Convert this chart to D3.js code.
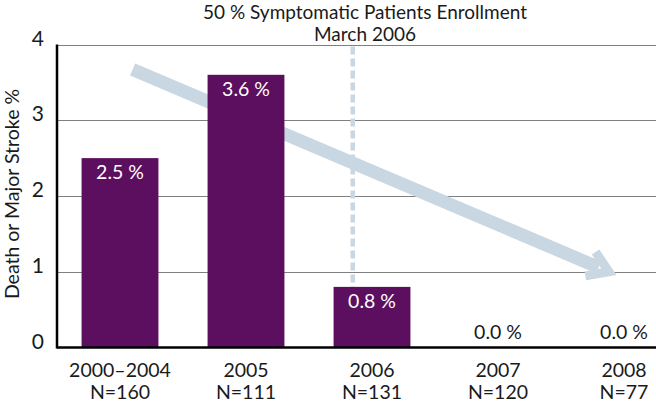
<!DOCTYPE html>
<html><head><meta charset="utf-8">
<script src="https://cdn.jsdelivr.net/npm/d3@7"></script>
<style>
html,body{margin:0;padding:0;background:#fff;}
svg text{font-family:Lato,"Noto Sans",sans-serif;}
</style></head>
<body><div id="chart"></div>
<script>
const categories = ["2000–2004","2005","2006","2007","2008"];
const sampleSizes = ["N=160","N=111","N=131","N=120","N=77"];
const values = [2.5, 3.6, 0.8, 0.0, 0.0];
const valueLabels = ["2.5 %","3.6 %","0.8 %","0.0 %","0.0 %"];
const yTicks = [0,1,2,3,4];
const titleLines = ["50 % Symptomatic Patients Enrollment","March 2006"];
const yAxisTitle = "Death or Major Stroke %";
const markerCategory = "2006";
// trend arrow endpoints in data units (category position offset, value)
const trendStart = {cat:"2000–2004", offset:0.1, value:3.67};
const trendEnd = {cat:"2008", offset:-0.12, value:1.0};

const W=656,H=403;
const svg=d3.select("#chart").append("svg").attr("width",W).attr("height",H);
const x=d3.scaleBand().domain(categories).range([57,687]).paddingInner(0.39).paddingOuter(0.195);
const y=d3.scaleLinear().domain([0,4]).range([347.5,44.5]);
const purple="#5c0e5f", arrowCol="#c8d7e2";

// gridlines
svg.append("g").selectAll("line").data(yTicks.filter(d=>d>0)).join("line")
  .attr("x1",57).attr("x2",W).attr("y1",d=>Math.round(y(d))+0.5).attr("y2",d=>Math.round(y(d))+0.5)
  .attr("stroke","#808080").attr("stroke-width",1.2);

// y tick labels
svg.append("g").selectAll("text").data(yTicks).join("text")
  .attr("x",44).attr("y",d=>y(d)).attr("dy","0.05em").attr("text-anchor","end")
  .attr("font-size",21).attr("fill","#1a1a1a").text(d=>d);

// dashed vertical marker
const mx=x(markerCategory)+x.bandwidth()*0.25;
svg.append("line").attr("x1",mx).attr("x2",mx).attr("y1",y(4)+2).attr("y2",y(values[categories.indexOf(markerCategory)]))
  .attr("stroke",arrowCol).attr("stroke-width",4.5).attr("stroke-dasharray","8,4");

// trend arrow
const bx=c=>x(c)+x.bandwidth()/2;
const x0=bx(trendStart.cat)+trendStart.offset*x.step(), y0=y(trendStart.value);
const x1=bx(trendEnd.cat)+trendEnd.offset*x.step(), y1=y(trendEnd.value);
const ang=Math.atan2(y1-y0,x1-x0);
const headLen=20, headHalf=13;
const bxp=x1-Math.cos(ang)*headLen*0.55, byp=y1-Math.sin(ang)*headLen*0.55;
svg.append("line").attr("x1",x0).attr("y1",y0).attr("x2",bxp).attr("y2",byp)
  .attr("stroke",arrowCol).attr("stroke-width",13);
const hx=x1-Math.cos(ang)*headLen, hy=y1-Math.sin(ang)*headLen;
const px=-Math.sin(ang), py=Math.cos(ang);
svg.append("path").attr("d",`M${hx+px*headHalf},${hy+py*headHalf} L${x1},${y1} L${hx-px*headHalf},${hy-py*headHalf}`)
  .attr("fill","none").attr("stroke",arrowCol).attr("stroke-width",9).attr("stroke-linejoin","miter");

// bars
svg.append("g").selectAll("rect").data(values).join("rect")
  .attr("x",(d,i)=>x(categories[i])).attr("width",x.bandwidth())
  .attr("y",d=>y(d)).attr("height",d=>y(0)-y(d)).attr("fill",purple);

// value labels
svg.append("g").selectAll("text").data(values).join("text")
  .attr("x",(d,i)=>bx(categories[i]))
  .attr("y",d=>d>0?y(d)+21:y(0)-9)
  .attr("text-anchor","middle").attr("font-size",19.5)
  .attr("fill",d=>d>0?"#ffffff":"#1a1a1a").text((d,i)=>valueLabels[i]);

// axes lines
svg.append("line").attr("x1",57).attr("x2",W).attr("y1",y(0)).attr("y2",y(0)).attr("stroke","#000").attr("stroke-width",2.5);
svg.append("line").attr("x1",57).attr("x2",57).attr("y1",y(4)).attr("y2",y(0)+1).attr("stroke","#000").attr("stroke-width",2.5);

// x labels
const xl=svg.append("g").selectAll("text").data(categories).join("text")
  .attr("x",d=>bx(d)).attr("text-anchor","middle").attr("font-size",19.5).attr("fill","#1a1a1a");
xl.append("tspan").attr("x",d=>bx(d)).attr("y",377).text(d=>d);
xl.append("tspan").attr("x",d=>bx(d)).attr("y",399).text((d,i)=>sampleSizes[i]);

// title
svg.append("g").selectAll("text").data(titleLines).join("text")
  .attr("x",365).attr("y",(d,i)=>19+i*22).attr("text-anchor","middle")
  .attr("font-size",19).attr("fill","#1a1a1a").text(d=>d);

// y axis title
svg.append("text").attr("transform","translate(19,194) rotate(-90)")
  .attr("text-anchor","middle").attr("font-size",19.5).attr("fill","#1a1a1a").text(yAxisTitle);
</script></body></html>
